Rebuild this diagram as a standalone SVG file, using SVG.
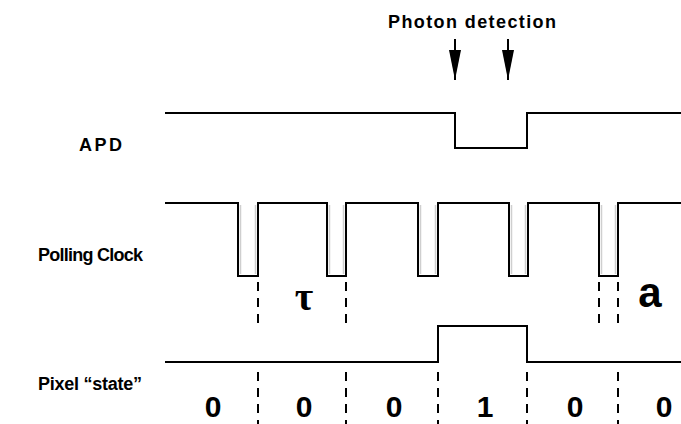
<svg xmlns="http://www.w3.org/2000/svg" width="681" height="424" viewBox="0 0 681 424">
<defs>
<style>
.lbl{font-family:"Liberation Sans",Arial,sans-serif;font-weight:bold;font-size:18px;fill:#000}
.dig{font-family:"Liberation Sans",Arial,sans-serif;font-weight:bold;font-size:30px;fill:#000;text-anchor:middle}
.sig{fill:none;stroke:#000;stroke-width:2;stroke-linejoin:miter}
.shadow{fill:none;stroke:#cfcfcf;stroke-width:1.5}
.dash{stroke:#000;stroke-width:2;stroke-dasharray:9 7}
.arrow{stroke:#000;stroke-width:2}
</style>
<marker id="ah" viewBox="0 0 30 12" refX="30" refY="6" markerWidth="30" markerHeight="12" markerUnits="userSpaceOnUse" orient="auto">
<path d="M0,0 L30,6 L0,12 Z" fill="#000"/>
</marker>
</defs>
<rect width="681" height="424" fill="#fff"/>

<g id="title">
<text class="lbl" x="388" y="28" textLength="168" lengthAdjust="spacing">Photon detection</text>
</g>

<g id="apd">
<text class="lbl" x="79" y="151" textLength="43" lengthAdjust="spacing">APD</text>
<polyline class="sig" points="165,113 455,113 455,148 527,148 527,113 681,113"/>
</g>

<g id="clock">
<text class="lbl" x="38" y="261" textLength="105" lengthAdjust="spacing">Polling Clock</text>
<g class="shadow">
<line x1="240.5" y1="205" x2="240.5" y2="274"/><line x1="255.5" y1="205" x2="255.5" y2="274"/>
<line x1="329.5" y1="205" x2="329.5" y2="274"/><line x1="343.5" y1="205" x2="343.5" y2="274"/>
<line x1="420.5" y1="205" x2="420.5" y2="274"/><line x1="435.5" y1="205" x2="435.5" y2="274"/>
<line x1="511.5" y1="205" x2="511.5" y2="274"/><line x1="525.5" y1="205" x2="525.5" y2="274"/>
<line x1="601.5" y1="205" x2="601.5" y2="274"/><line x1="615.5" y1="205" x2="615.5" y2="274"/>
</g>
<polyline class="sig" points="165,203 238,203 238,276 258,276 258,203 327,203 327,276 346,276 346,203 418,203 418,276 438,276 438,203 509,203 509,276 528,276 528,203 599,203 599,276 618,276 618,203 681,203"/>
<text x="304" y="310" font-family="'Liberation Serif','Times New Roman',serif" font-weight="bold" font-size="40" text-anchor="middle">τ</text>
<text x="650" y="307" font-family="'Liberation Sans',Arial,sans-serif" font-weight="bold" font-size="42" text-anchor="middle">a</text>
</g>

<g id="pixel">
<text class="lbl" x="38" y="390" textLength="104" lengthAdjust="spacing">Pixel “state”</text>
<polyline class="sig" points="165,362 438,362 438,326 527,326 527,362 681,362"/>
<text class="dig" x="213" y="417">0</text>
<text class="dig" x="304" y="417">0</text>
<text class="dig" x="394" y="417">0</text>
<text class="dig" x="485" y="417">1</text>
<text class="dig" x="575" y="417">0</text>
<text class="dig" x="664" y="417">0</text>
</g>

<g id="connectors">
<line class="arrow" x1="455" y1="39" x2="455" y2="80" marker-end="url(#ah)"/>
<line class="arrow" x1="508" y1="39" x2="508" y2="80" marker-end="url(#ah)"/>
<line class="dash" x1="258" y1="282" x2="258" y2="325"/>
<line class="dash" x1="346" y1="282" x2="346" y2="325"/>
<line class="dash" x1="599" y1="282" x2="599" y2="325"/>
<line class="dash" x1="618" y1="282" x2="618" y2="325"/>
<line class="dash" x1="258" y1="372" x2="258" y2="424"/>
<line class="dash" x1="346" y1="372" x2="346" y2="424"/>
<line class="dash" x1="438" y1="372" x2="438" y2="424"/>
<line class="dash" x1="527" y1="372" x2="527" y2="424"/>
<line class="dash" x1="618" y1="372" x2="618" y2="424"/>
</g>
</svg>
